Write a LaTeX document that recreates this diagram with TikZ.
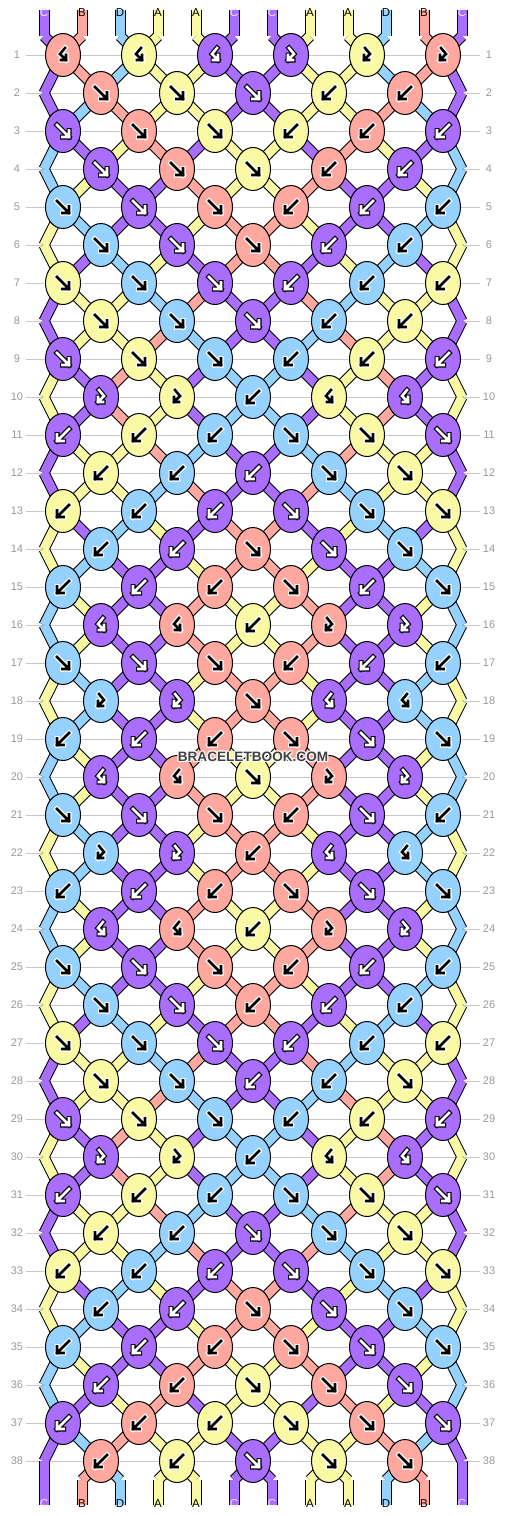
\documentclass[tikz,border=0pt]{standalone}
\usepackage{fontspec}
\setmainfont{Liberation Sans}
\usetikzlibrary{shapes.geometric}
\definecolor{cC}{HTML}{AA6EFF}
\definecolor{cB}{HTML}{FFA8A0}
\definecolor{cD}{HTML}{96D2FF}
\definecolor{cA}{HTML}{FAFAA5}
\definecolor{gridc}{HTML}{C8C8C8}
\definecolor{numc}{HTML}{999999}
\definecolor{wmc}{HTML}{404040}
\definecolor{labC}{HTML}{F2EAFF}
\pgfdeclarelayer{gridl}
\pgfdeclarelayer{sego}
\pgfdeclarelayer{segf}
\pgfsetlayers{gridl,sego,segf,main}

\def\Tf{f}\def\Tb{b}\def\Tfb{fb}\def\Tbf{bf}
\newcommand\defty[2]{\expandafter\def\csname ty#1\endcsname{#2}}
\defty{1}{bf,bf,bf,fb,fb,fb}
\defty{2}{f,f,f,b,b}
\defty{3}{f,f,f,b,b,b}
\defty{4}{f,f,f,b,b}
\defty{5}{f,f,f,b,b,b}
\defty{6}{f,f,f,b,b}
\defty{7}{f,f,f,b,b,b}
\defty{8}{f,f,f,b,b}
\defty{9}{f,f,f,b,b,b}
\defty{10}{fb,fb,b,bf,bf}
\defty{11}{b,b,b,f,f,f}
\defty{12}{b,b,b,f,f}
\defty{13}{b,b,b,f,f,f}
\defty{14}{b,b,f,f,f}
\defty{15}{b,b,b,f,b,f}
\defty{16}{bf,bf,b,fb,fb}
\defty{17}{f,f,f,b,b,b}
\defty{18}{fb,fb,f,bf,bf}
\defty{19}{b,b,b,f,f,f}
\defty{20}{bf,bf,f,fb,fb}
\defty{21}{f,f,f,b,f,b}
\defty{22}{fb,fb,b,bf,bf}
\defty{23}{b,b,b,f,f,f}
\defty{24}{bf,bf,b,fb,fb}
\defty{25}{f,f,f,b,b,b}
\defty{26}{f,f,b,b,b}
\defty{27}{f,f,f,b,b,b}
\defty{28}{f,f,b,b,f}
\defty{29}{f,f,f,b,b,b}
\defty{30}{fb,fb,b,bf,bf}
\defty{31}{b,b,b,f,f,f}
\defty{32}{b,b,f,f,f}
\defty{33}{b,b,b,f,f,f}
\defty{34}{b,b,f,f,f}
\defty{35}{b,b,b,f,f,f}
\defty{36}{b,b,f,f,f}
\defty{37}{b,b,b,f,f,f}
\defty{38}{b,b,f,f,f}

\newcommand\getname[2]{%
 \ifnum#1=0 \edef\nmres{t#2}\else
 \ifnum#1=39 \edef\nmres{b#2}\else
 \ifodd#1 \pgfmathtruncatemacro\kk{(#2+1)/2}\edef\nmres{k#1-\kk}\else
  \ifnum#2=1 \edef\nmres{eL#1}\else
  \ifnum#2=12 \edef\nmres{eR#1}\else
  \pgfmathtruncatemacro\kk{#2/2}\edef\nmres{k#1-\kk}\fi\fi\fi\fi\fi}

\tikzset{
 knot/.style={ellipse, draw=black, line width=1pt, minimum width=35pt, minimum height=43pt, inner sep=0pt},
 sego/.style={draw=black, line width=11pt},
 segf/.style={line width=9pt},
 gridline/.style={draw=gridc, line width=1pt},
 rownum/.style={text=numc, font=\fontsize{11}{12}\selectfont, inner sep=0pt},
 strlab/.style={font=\fontsize{11.5}{12}\selectfont, inner sep=0pt},
 glo/.style={line width=5pt, line cap=rect, line join=miter},
 gli/.style={line width=2.6pt, line cap=rect, line join=miter},
 wm/.style={font=\bfseries\fontsize{13.6}{14}\selectfont, inner sep=0pt},
}
\newcommand\glyphf[3]{%
 \draw[glo,draw=#2,shift={(#1.center)}] (-6,-6) -- (6,6) (6,-0.5) -- (6,6) -- (-0.5,6);
 \draw[gli,draw=#3,shift={(#1.center)}] (-6,-6) -- (6,6) (6,-0.5) -- (6,6) -- (-0.5,6);}
\newcommand\glyphb[3]{%
 \draw[glo,draw=#2,shift={(#1.center)}] (6,-6) -- (-6,6) (-6,-0.5) -- (-6,6) -- (0.5,6);
 \draw[gli,draw=#3,shift={(#1.center)}] (6,-6) -- (-6,6) (-6,-0.5) -- (-6,6) -- (0.5,6);}
\newcommand\glyphfb[3]{%
 \draw[glo,draw=#2,shift={(#1.center)}] (-2,-7) -- (3,-1) -- (-3,5) (-3,0) -- (-3,5) -- (2,5);
 \draw[gli,draw=#3,shift={(#1.center)}] (-2,-7) -- (3,-1) -- (-3,5) (-3,0) -- (-3,5) -- (2,5);}
\newcommand\glyphbf[3]{%
 \draw[glo,draw=#2,shift={(#1.center)}] (2,-7) -- (-3,-1) -- (3,5) (3,0) -- (3,5) -- (-2,5);
 \draw[gli,draw=#3,shift={(#1.center)}] (2,-7) -- (-3,-1) -- (3,5) (3,0) -- (3,5) -- (-2,5);}

% draw all string segments; #1=0 outline pass, 1 fill pass
\newcommand\drawsegs[1]{%
 \foreach \r in {0,...,38}{
  \pgfmathtruncatemacro\rn{\r+1}
  \foreach \i in {1,...,12}{
    \getname{\r}{\i}\let\na\nmres
    \getname{\rn}{\i}\let\nb\nmres
    \edef\sc{\csname s\r-\i\endcsname}
    \ifnum#1=0 \draw[sego] (\na.center) -- (\nb.center);%
    \else \draw[segf, draw=c\sc] (\na.center) -- (\nb.center);\fi
  }}
 \foreach \i in {1,...,12}{
  \edef\sc{\csname s0-\i\endcsname}
  \edef\sd{\csname s38-\i\endcsname}
  \ifnum#1=0 \draw[sego] (tt\i.center) -- (t\i.center); \draw[sego] (b\i.center) -- (bb\i.center);%
  \else \draw[segf, draw=c\sc] (tt\i.center) -- (t\i.center); \draw[segf, draw=c\sd] (b\i.center) -- (bb\i.center);\fi
 }}

\begin{document}
\begin{tikzpicture}[x=1pt,y=-1pt,line cap=round,line join=round]
\useasboundingbox (0,0) rectangle (506,1516);
\begin{pgfonlayer}{gridl}
\fill[white] (0,0) rectangle (506,1516);
\foreach \r in {1,...,38}{
  \pgfmathsetmacro\yy{55+38*(\r-1)}
  \draw[gridline] (26,\yy) -- (480,\yy);
}
\end{pgfonlayer}
\foreach \r in {1,...,38}{
  \pgfmathsetmacro\yy{55+38*(\r-1)}
  \node[rownum] (nl\r) at (17,\yy) {\r};
  \node[rownum] (nr\r) at (489,\yy) {\r};
}
% string ends
\foreach \c [count=\i] in {C,B,D,A,A,C,C,A,A,D,B,C}{
  \expandafter\xdef\csname s0-\i\endcsname{\c}
  \pgfmathsetmacro\xx{44+38*(\i-1)}
  \coordinate (tt\i) at (\xx,10);
  \coordinate (t\i) at (\xx,36);
  \coordinate (b\i) at (\xx,1480);
  \coordinate (bb\i) at (\xx,1505);
}
% knots (with simulation of string colours)
\foreach \r in {1,...,38}{
  \pgfmathtruncatemacro\rp{\r-1}
  \pgfmathsetmacro\yy{55+38*(\r-1)}
  \foreach \i in {1,...,12}{\expandafter\xdef\csname s\r-\i\endcsname{\csname s\rp-\i\endcsname}}
  \ifodd\r \def\off{0}\def\xo{63}\else \def\off{1}\def\xo{101}%
    \coordinate (eL\r) at (44,\yy); \coordinate (eR\r) at (462,\yy);\fi
  \expandafter\let\expandafter\tylist\csname ty\r\endcsname
  \foreach \ty [count=\j] in \tylist {
     \pgfmathtruncatemacro\iL{2*\j-1+\off}
     \pgfmathtruncatemacro\iR{\iL+1}
     \pgfmathsetmacro\xx{\xo+76*(\j-1)}
     \edef\lc{\csname s\rp-\iL\endcsname}
     \edef\rc{\csname s\rp-\iR\endcsname}
     \edef\ktype{\ty}
     \ifx\ktype\Tf \let\kc\lc \def\swp{1}\fi
     \ifx\ktype\Tb \let\kc\rc \def\swp{1}\fi
     \ifx\ktype\Tfb \let\kc\lc \def\swp{0}\fi
     \ifx\ktype\Tbf \let\kc\rc \def\swp{0}\fi
     \node[knot, fill=c\kc] (k\r-\j) at (\xx,\yy) {};
     \if C\kc \def\go{black}\def\gi{white}\else \def\go{white}\def\gi{black}\fi
     \csname glyph\ktype\endcsname{k\r-\j}{\go}{\gi}
     \if1\swp
       \expandafter\xdef\csname s\r-\iL\endcsname{\rc}
       \expandafter\xdef\csname s\r-\iR\endcsname{\lc}
     \fi
  }
}
% connectors
\begin{pgfonlayer}{sego}\drawsegs{0}\end{pgfonlayer}
\begin{pgfonlayer}{segf}\drawsegs{1}\end{pgfonlayer}
% labels of the strings
\foreach \i in {1,...,12}{
  \pgfmathsetmacro\xx{44+38*(\i-1)}
  \edef\sc{\csname s0-\i\endcsname}
  \edef\sd{\csname s38-\i\endcsname}
  \if C\sc \def\lt{labC}\else\def\lt{black}\fi
  \node[strlab, text=\lt] (lt\i) at (\xx,13) {\sc};
  \if C\sd \def\lt{labC}\else\def\lt{black}\fi
  \node[strlab, text=\lt] (lb\i) at (\xx,1504) {\sd};
}
% watermark
\foreach \dx/\dy [count=\w] in {-1/-1,0/-1,1/-1,-1/0,1/0,-1/1,0/1,1/1}{
  \node[wm, text=white] (wmh\w) at (253+\dx,757+\dy) {BRACELETBOOK.COM};
}
\node[wm, text=wmc] (wm) at (253,757) {BRACELETBOOK.COM};
\end{tikzpicture}
\end{document}
